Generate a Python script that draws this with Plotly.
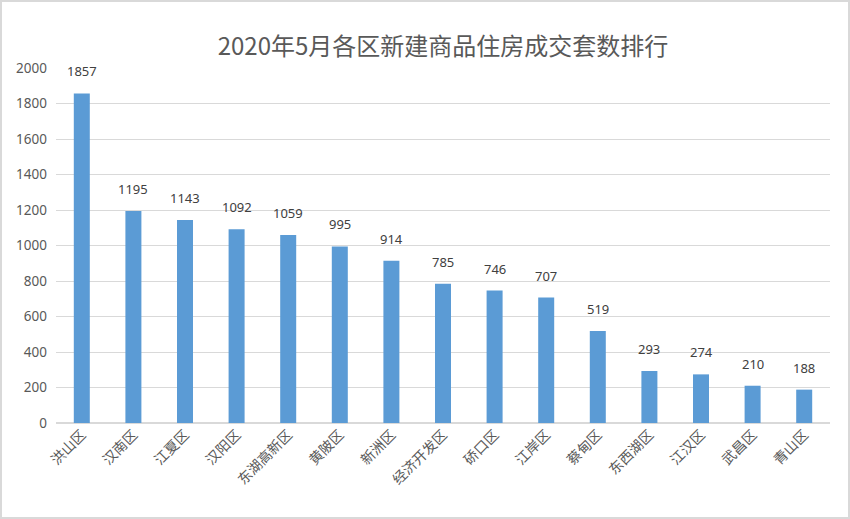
import plotly.graph_objects as go

districts = ["洪山区", "汉南区", "江夏区", "汉阳区", "东湖高新区", "黄陂区", "新洲区", "经济开发区",
             "硚口区", "江岸区", "蔡甸区", "东西湖区", "江汉区", "武昌区", "青山区"]
sales = [1857, 1195, 1143, 1092, 1059, 995, 914, 785, 746, 707, 519, 293, 274, 210, 188]
y_ticks = list(range(0, 2001, 200))

W, H = 850, 519
ml, mr, mt, mb = 56, 20, 68, 96
pw, ph = W - ml - mr, H - mt - mb

fig = go.Figure(go.Bar(
    x=districts, y=sales, width=0.31,
    marker=dict(color="#5B9BD5", line=dict(width=0)),
))

for d, v in zip(districts, sales):
    fig.add_annotation(x=d, y=v, text=str(v), showarrow=False, yanchor="bottom",
                       yshift=11, font=dict(size=13, color="#404040",
                                            family="Noto Sans, Open Sans, sans-serif"))

fig.update_layout(
    width=W, height=H,
    margin=dict(l=ml, r=mr, t=mt, b=mb),
    paper_bgcolor="white", plot_bgcolor="white",
    title=dict(text="2020年5月各区新建商品住房成交套数排行", x=0.5, xanchor="center", xref="paper",
               y=1 - 47 / H, yanchor="middle",
               font=dict(size=24, color="#595959", family="Noto Sans CJK SC, sans-serif")),
    showlegend=False,
)
fig.update_xaxes(
    tickangle=-45, showgrid=False, showline=False, ticks="",
    tickfont=dict(size=14, color="#595959", family="Noto Sans CJK SC, sans-serif"),
)
fig.update_yaxes(
    range=[0, 2000], tickvals=y_ticks, showgrid=True, gridcolor="#D9D9D9", gridwidth=1,
    zeroline=True, zerolinecolor="#D9D9D9", zerolinewidth=1.5,
    tickfont=dict(size=13.5, color="#595959", family="Noto Sans, Open Sans, sans-serif"),
    ticks="", ticklen=0, automargin=False, ticklabelstandoff=8,
)
fig.add_shape(type="rect", xref="paper", yref="paper",
              x0=(1 - ml) / pw, x1=(W - 1 - ml) / pw,
              y0=-(mb - 1) / ph, y1=1 + (mt - 1) / ph,
              line=dict(color="#D9D9D9", width=2), fillcolor="rgba(0,0,0,0)", layer="below")

fig.write_html("out.html")
